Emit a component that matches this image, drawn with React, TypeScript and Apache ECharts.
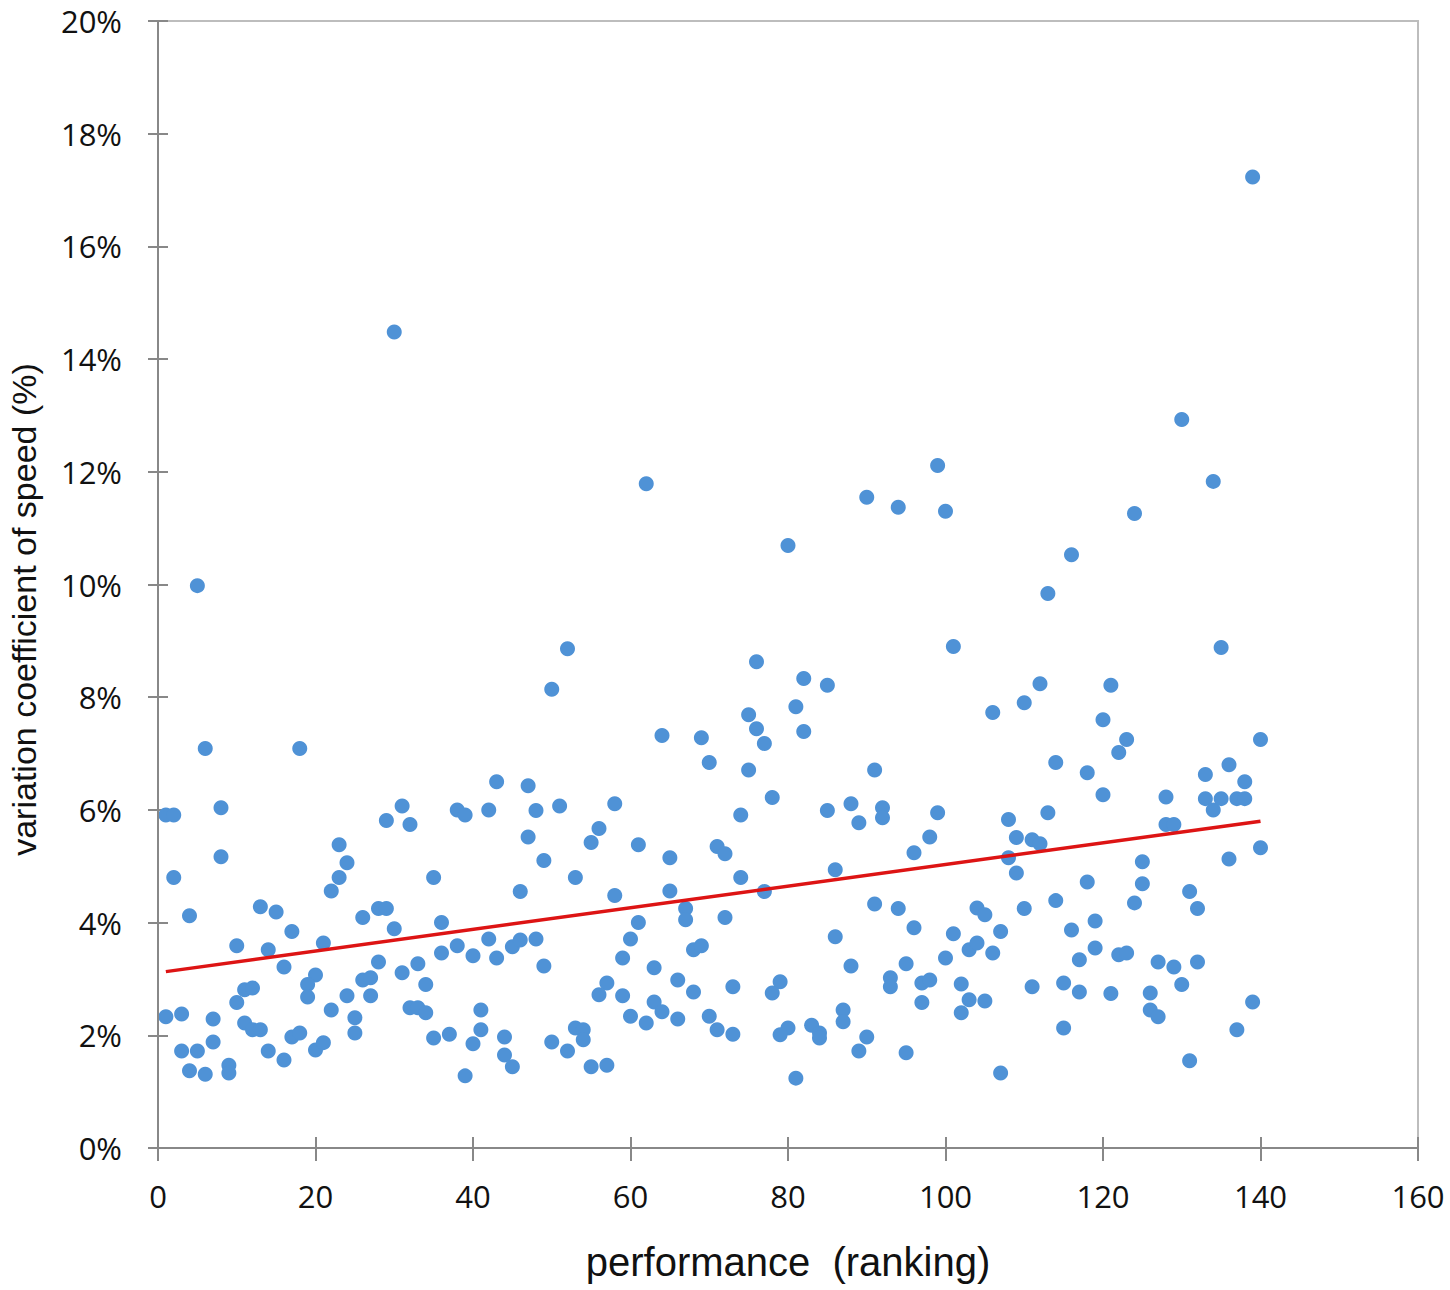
import React, { useEffect, useRef } from "react";
import * as echarts from "echarts";

// performance ranking (x) and variation coefficient of speed in % (y)
const rankX: number[] = [
  6, 18, 1, 2, 8, 8, 2, 4, 10, 13, 15, 17, 14, 16, 21, 23, 24, 23, 22, 26, 28, 29, 30, 31, 29, 32, 35, 36, 36, 28,
  33, 31, 34, 26, 27, 27, 24, 20, 19, 19, 22, 25, 25, 32, 33, 34, 35, 37, 1, 3, 7, 10, 11, 12, 11, 12, 13, 7, 3, 5,
  4, 6, 9, 9, 14, 16, 17, 18, 20, 21, 5, 30,
  64, 69, 70, 43, 47, 38, 39, 42, 48, 51, 58, 74, 47, 56, 55, 61, 71, 72, 65, 49, 53, 74, 46, 58, 65, 67, 67, 72,
  61, 38, 40, 42, 43, 45, 46, 48, 49, 60, 59, 68, 69, 63, 57, 56, 59, 66, 68, 73, 63, 64, 60, 62, 66, 70, 71, 73,
  41, 41, 40, 44, 44, 45, 39, 50, 52, 53, 54, 54, 55, 57, 50, 52, 62,
  81, 75, 76, 77, 82, 106, 75, 91, 78, 85, 88, 89, 92, 92, 99, 98, 96, 108, 109, 111, 112, 108, 109, 77, 86, 91, 94,
  96, 104, 105, 110, 86, 101, 107, 103, 104, 106, 100, 95, 88, 79, 78, 93, 93, 97, 98, 102, 97, 103, 105, 102, 111,
  87, 87, 80, 79, 83, 84, 84, 90, 89, 95, 81, 107, 76, 80, 82, 85, 90, 94, 99, 100, 101,
  110, 120, 123, 122, 140, 114, 118, 136, 133, 138, 120, 128, 133, 134, 135, 137, 138, 113, 128, 129, 140, 136, 125,
  125, 118, 124, 131, 132, 114, 119, 116, 119, 117, 122, 123, 127, 129, 132, 130, 115, 117, 121, 126, 126, 127, 139,
  115, 137, 131, 112, 113, 116, 124, 121, 130, 134, 135, 139,
];

const cvY: number[] = [
  7.09, 7.09, 5.91, 5.91, 6.04, 5.17, 4.8, 4.12, 3.59, 4.28, 4.19, 3.84, 3.52, 3.21, 3.64, 5.38, 5.06, 4.8, 4.56, 4.09,
  4.25, 4.25, 3.89, 6.07, 5.81, 5.74, 4.8, 4.0, 3.46, 3.3, 3.27, 3.11, 2.9, 2.98, 3.02, 2.7, 2.7, 3.07, 2.9, 2.68,
  2.45, 2.31, 2.04, 2.49, 2.49, 2.4, 1.95, 2.02, 2.33, 2.38, 2.29, 2.58, 2.81, 2.84, 2.22, 2.1, 2.1, 1.88, 1.72, 1.72,
  1.37, 1.31, 1.47, 1.33, 1.72, 1.56, 1.97, 2.04, 1.74, 1.87, 9.98, 14.48,
  7.32, 7.28, 6.84, 6.5, 6.43, 6.0, 5.91, 6.0, 5.99, 6.07, 6.11, 5.91, 5.52, 5.67, 5.42, 5.38, 5.35, 5.22, 5.15, 5.1,
  4.8, 4.8, 4.55, 4.48, 4.56, 4.25, 4.05, 4.09, 4.0, 3.59, 3.41, 3.71, 3.37, 3.57, 3.69, 3.71, 3.23, 3.71, 3.37, 3.52,
  3.59, 3.2, 2.93, 2.72, 2.7, 2.98, 2.77, 2.86, 2.59, 2.42, 2.34, 2.22, 2.29, 2.34, 2.1, 2.02, 2.45, 2.1, 1.85, 1.97,
  1.65, 1.44, 1.28, 1.88, 1.72, 2.13, 2.1, 1.92, 1.44, 1.47, 8.14, 8.86, 11.79,
  7.83, 7.69, 7.44, 7.18, 7.39, 7.73, 6.71, 6.71, 6.22, 5.99, 6.11, 5.77, 6.04, 5.86, 5.95, 5.52, 5.24, 5.83, 5.51,
  5.47, 5.4, 5.15, 4.88, 4.55, 4.94, 4.33, 4.25, 3.91, 4.26, 4.14, 4.25, 3.75, 3.8, 3.84, 3.52, 3.64, 3.46, 3.37, 3.27,
  3.23, 2.95, 2.75, 3.02, 2.86, 2.93, 2.98, 2.91, 2.58, 2.63, 2.61, 2.4, 2.86, 2.45, 2.24, 2.13, 2.01, 2.18, 2.04,
  1.95, 1.97, 1.72, 1.69, 1.24, 1.33, 8.63, 10.69, 8.33, 8.21, 11.55, 11.37, 12.11, 11.3, 8.9,
  7.9, 7.6, 7.25, 7.02, 7.25, 6.84, 6.66, 6.8, 6.63, 6.5, 6.27, 6.23, 6.2, 6.0, 6.2, 6.2, 6.2, 5.95, 5.74, 5.74, 5.33,
  5.13, 5.08, 4.69, 4.72, 4.35, 4.55, 4.25, 4.39, 4.03, 3.87, 3.55, 3.34, 3.43, 3.46, 3.3, 3.21, 3.3, 2.9, 2.93, 2.77,
  2.74, 2.75, 2.45, 2.33, 2.59, 2.13, 2.1, 1.55, 8.24, 9.84, 10.53, 11.26, 8.21, 12.93, 11.83, 8.88, 17.23,
];

// linear trend line end points
const trendX: number[] = [1, 140];
const trendY: number[] = [3.13, 5.8];

const xTicks = { min: 0, max: 160, interval: 20 };
const yTicks = { min: 0, max: 20, interval: 2 };

const AXIS_COLOR = "#888888";
const GRID = { left: 158, right: 32, top: 21, bottom: 142 };
const W = 1450;
const H = 1290;

export default function App() {
  const ref = useRef<HTMLDivElement>(null);

  useEffect(() => {
    if (!ref.current) return;
    const chart = echarts.init(ref.current, undefined, { renderer: "svg" });
    const points = rankX.map((x, i) => [x, cvY[i]]);
    const trend = trendX.map((x, i) => [x, trendY[i]]);
    const labelStyle = { fontFamily: "Open Sans", fontSize: 31, color: "#111" };
    const tickLine = { color: AXIS_COLOR, width: 2 };
    chart.setOption({
      animation: false,
      backgroundColor: "#ffffff",
      grid: [
        {
          ...GRID,
          show: true,
          borderColor: "#bdbdbd",
          borderWidth: 2,
          backgroundColor: "transparent",
          containLabel: false,
          outerBoundsMode: "none",
        },
        {
          // same frame again: carries the inner half of the crossing ticks
          ...GRID,
          show: false,
          containLabel: false,
          outerBoundsMode: "none",
        },
      ],
      xAxis: [
        {
          type: "value",
          gridIndex: 0,
          ...xTicks,
          position: "bottom",
          name: "performance  (ranking)",
          nameLocation: "middle",
          nameGap: 94,
          nameTextStyle: { fontFamily: "Liberation Sans", fontSize: 40, color: "#111" },
          axisLine: { show: true, onZero: false, lineStyle: tickLine },
          axisTick: { show: true, length: 13, lineStyle: tickLine },
          axisLabel: { ...labelStyle, margin: 32 },
          splitLine: { show: false },
          z: 5,
        },
        {
          type: "value",
          gridIndex: 1,
          ...xTicks,
          position: "bottom",
          axisLine: { show: false, onZero: false },
          axisTick: { show: true, inside: true, length: 11, lineStyle: tickLine },
          axisLabel: { show: false },
          splitLine: { show: false },
        },
      ],
      yAxis: [
        {
          type: "value",
          gridIndex: 0,
          ...yTicks,
          position: "left",
          name: "variation coefficient of speed (%)",
          nameLocation: "middle",
          nameRotate: 90,
          nameGap: 117,
          nameTextStyle: {
            fontFamily: "Liberation Sans",
            fontSize: 34,
            color: "#111",
            padding: [0, 50, 0, 0],
          },
          axisLine: { show: true, onZero: false, lineStyle: tickLine },
          axisTick: { show: true, length: 10, lineStyle: tickLine },
          axisLabel: { ...labelStyle, margin: 36, formatter: "{value}%" },
          splitLine: { show: false },
          z: 5,
        },
        {
          type: "value",
          gridIndex: 1,
          ...yTicks,
          position: "left",
          axisLine: { show: false, onZero: false },
          axisTick: { show: true, inside: true, length: 10, lineStyle: tickLine },
          axisLabel: { show: false },
          splitLine: { show: false },
        },
      ],
      series: [
        {
          type: "scatter",
          xAxisIndex: 0,
          yAxisIndex: 0,
          data: points,
          symbol: "circle",
          symbolSize: 15,
          itemStyle: { color: "#4f92d6", opacity: 1 },
          z: 2,
        },
        {
          type: "line",
          xAxisIndex: 0,
          yAxisIndex: 0,
          data: trend,
          symbol: "none",
          lineStyle: { color: "#dd1414", width: 3.5 },
          z: 3,
        },
      ],
    });
    return () => chart.dispose();
  }, []);

  return (
    <div
      ref={ref}
      style={{ position: "absolute", left: 0, top: 0, width: W, height: H, background: "#fff" }}
    />
  );
}
